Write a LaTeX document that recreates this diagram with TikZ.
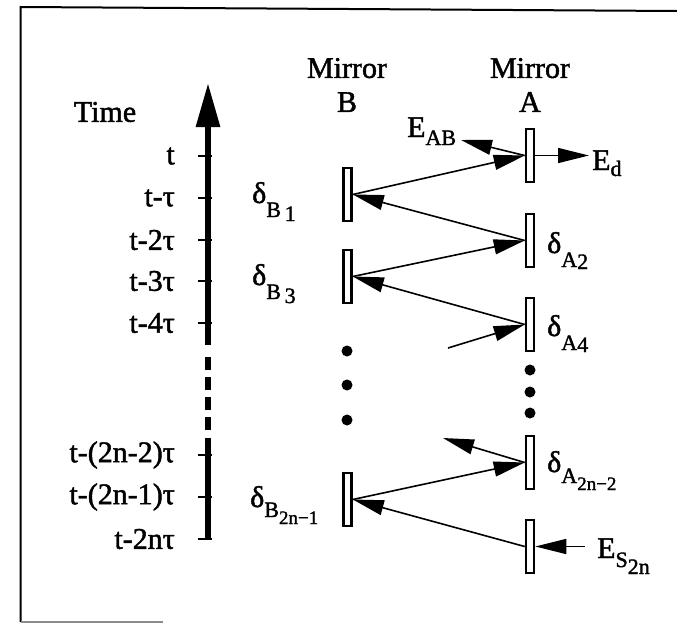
\documentclass[tikz,border=0pt]{standalone}
\usepackage{fontspec}
\setmainfont{Liberation Serif}[FakeBold=1.5]
\usetikzlibrary{arrows.meta}
\newcommand{\subA}[2]{\raisebox{-#1}{\fontsize{22}{22}\selectfont #2}}
\newcommand{\subB}[2]{\raisebox{-#1}{\fontsize{19}{19}\selectfont #2}}
\begin{document}
\begin{tikzpicture}[x=1pt,y=-1pt,
  mirror/.style={draw, line width=2.6pt, fill=white, minimum width=8pt, minimum height=53pt, inner sep=0pt},
  ray/.style={line width=1.6pt, -{Triangle[length=31pt,width=15pt]}},
  lbl/.style={font=\fontsize{30}{34}\selectfont, inner sep=0pt},
  tickmark/.style={line width=1.8pt},
  axis/.style={line width=6pt},
  dot/.style={circle, fill=black, minimum size=11pt, inner sep=0pt}]
\useasboundingbox (0,0) rectangle (677,624);
% frame
\draw[line width=2pt] (677,11) -- (20.5,7) -- (20.5,622);
\draw[line width=1.5pt, black!45] (20.5,622) -- (163,622);
% time axis
\coordinate (ax0) at (208,540);
\coordinate (ax1) at (208,438);
\coordinate (ax2) at (208,345);
\coordinate (axd0) at (208,357);
\coordinate (axd1) at (208,430);
\coordinate (axtip) at (208,83);
\draw[axis] (ax0) -- (ax1);
\draw[axis, dash pattern=on 13pt off 7pt] (axd0) -- (axd1);
\draw[axis, -{Triangle[length=44pt,width=23pt]}] (ax2) -- (axtip);
\node[lbl] (time) at (105,112) {Time};
\foreach \y/\t/\n in {156/t/l0, 198/t-τ/l1, 240/t-2τ/l2, 281/t-3τ/l3, 323/t-4τ/l4, 455/t-(2n-2)τ/l5, 497/t-(2n-1)τ/l6, 539/t-2nτ/l7}{
  \draw[tickmark] (198,\y) -- (212,\y);
  \node[lbl, anchor=east] (\n) at (175,\y) {\t};
}
% mirror headers
\node[lbl, align=center] (mB) at (347,85) {Mirror\\B};
\node[lbl, align=center] (mA) at (530,85) {Mirror\\A};
% mirrors
\node[mirror] (A0) at (530,155.5) {};
\node[mirror] (B1) at (347.5,194.5) {};
\node[mirror] (A2) at (530,240.5) {};
\node[mirror] (B3) at (347.5,276.5) {};
\node[mirror] (A4) at (530,324.5) {};
\node[mirror] (A6) at (530,462.5) {};
\node[mirror] (B7) at (347.5,499.5) {};
\node[mirror] (A8) at (530,546.5) {};
% free ends
\coordinate (eab) at (461,140);
\coordinate (ed) at (589,155.5);
\coordinate (in4) at (448,348);
\coordinate (out6) at (443,438);
\coordinate (es) at (585,546.5);
% rays
\draw[ray] (B1.east) -- (A0.west);
\draw[ray] (A0.west) -- (eab);
\draw[ray] (A0.east) -- (ed);
\draw[ray] (A2.west) -- (B1.east);
\draw[ray] (B3.east) -- (A2.west);
\draw[ray] (A4.west) -- (B3.east);
\draw[ray] (in4) -- (A4.west);
\draw[ray] (A6.west) -- (out6);
\draw[ray] (B7.east) -- (A6.west);
\draw[ray] (A8.west) -- (B7.east);
\draw[ray] (es) -- (A8.east);
% dots
\node[dot] (db1) at (347,351) {};
\node[dot] (db2) at (347,385) {};
\node[dot] (db3) at (347,420) {};
\node[dot] (da1) at (530,370) {};
\node[dot] (da2) at (530,392) {};
\node[dot] (da3) at (530,413) {};
% labels
\node[lbl, anchor=base west] (EAB) at (407,137) {E\subA{8pt}{AB}};
\node[lbl, anchor=base west] (Ed) at (592,170) {E\subA{6pt}{d}};
\node[lbl, anchor=base west] (ES) at (597,558) {E\subA{9pt}{S\raisebox{-7pt}{2n}}};
\node[lbl, anchor=base west] (dB1) at (252,203) {δ\subA{14pt}{B\,\raisebox{-4pt}{1}}};
\node[lbl, anchor=base west] (dB3) at (252,285) {δ\subA{14pt}{B\,\raisebox{-4pt}{3}}};
\node[lbl, anchor=base west] (dB7) at (250,507) {δ\subA{10pt}{B\subB{7pt}{2n−1}}};
\node[lbl, anchor=base west] (dA2) at (547,253) {δ\subA{14pt}{A\raisebox{-2pt}{2}}};
\node[lbl, anchor=base west] (dA4) at (547,336) {δ\subA{14pt}{A\raisebox{-2pt}{4}}};
\node[lbl, anchor=base west] (dA6) at (547,472) {δ\subA{11pt}{A\subB{7pt}{2n−2}}};
\end{tikzpicture}
\end{document}
